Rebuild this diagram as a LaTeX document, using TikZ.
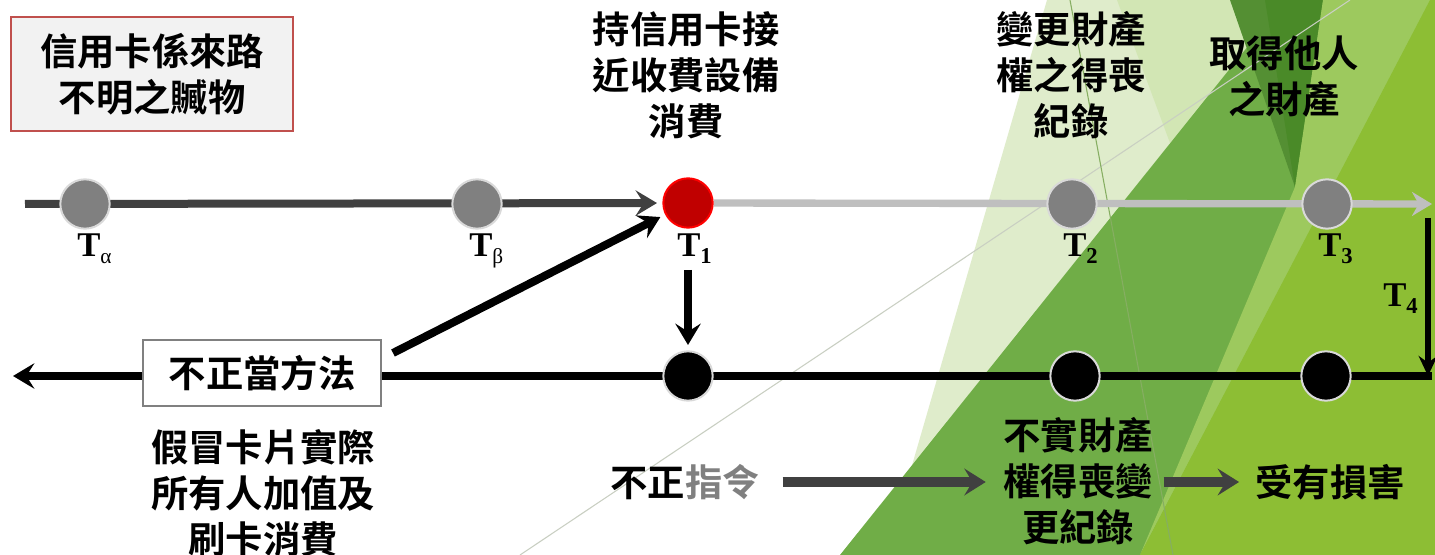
\documentclass[tikz,border=0pt]{standalone}
\usepackage{fontspec}
\setmainfont{Liberation Serif}
\newfontfamily\cjk{Noto Sans CJK TC}[BoldFont={* Bold}]
\usetikzlibrary{arrows.meta}
\definecolor{darkl}{HTML}{404040}
\definecolor{lightl}{HTML}{BFBFBF}
\definecolor{dotgray}{HTML}{808080}
\definecolor{dotrim}{HTML}{D9D9D9}
\definecolor{redfill}{HTML}{C00000}
\definecolor{redrim}{HTML}{FF0000}
\definecolor{boxfill}{HTML}{F2F2F2}
\definecolor{boxrim}{HTML}{C0504D}
\definecolor{pale}{HTML}{DFECCB}
\definecolor{pale2}{HTML}{D2E6B4}
\definecolor{midgreen}{HTML}{70AD47}
\definecolor{darkgreen}{HTML}{548F33}
\definecolor{darkgreen2}{HTML}{4A8A28}
\definecolor{ltgreen}{HTML}{9DC95E}
\definecolor{ygreen}{HTML}{8DBE34}
\definecolor{thinA}{HTML}{C9CFC2}
\definecolor{thinB}{HTML}{86AE62}
\pgfdeclarelayer{bgl}
\pgfdeclarelayer{ln}
\pgfsetlayers{bgl,ln,main}
\newcommand{\tsub}[1]{T\raisebox{-5pt}{\fontsize{17}{17}\selectfont #1}}
\begin{document}
\begin{tikzpicture}[x=0.75pt,y=-0.75pt,
  cjkt/.style={font=\cjk\bfseries\fontsize{28}{34.5}\selectfont, align=center, inner sep=0pt},
  dot/.style={circle, minimum size=37pt, inner sep=0pt, line width=1.5pt},
  graydot/.style={dot, fill=dotgray, draw=dotrim},
  reddot/.style={dot, fill=redfill, draw=redrim},
  blackdot/.style={dot, fill=black, draw=dotrim},
  tlab/.style={font=\bfseries\fontsize{26}{26}\selectfont, inner sep=0pt, anchor=base west},
  bigtip/.style={-{Stealth[length=16pt,width=19pt,inset=6pt]}},
  darkline/.style={draw=darkl, line width=6pt},
  lightline/.style={draw=lightl, line width=5.5pt},
  blackline/.style={draw=black, line width=6pt},
  flowarrow/.style={draw=darkl, line width=7.5pt, -{Stealth[length=16pt,width=20pt,inset=6pt]}}
]
\useasboundingbox (0,0) rectangle (1435,555);
% background facets
\begin{pgfonlayer}{bgl}
\fill[white] (0,0) rectangle (1435,555);
\fill[pale] (1047,0) -- (1435,0) -- (1435,555) -- (886,555) -- cycle;
\fill[pale2] (1117,0) -- (1285,0) -- (1180,170) -- cycle;
\fill[midgreen] (840,555) -- (1285,0) -- (1435,0) -- (1435,555) -- cycle;
\fill[darkgreen] (1230,0) -- (1323,0) -- (1295,187) -- cycle;
\fill[darkgreen2] (1265,0) -- (1323,0) -- (1295,187) -- cycle;
\fill[ltgreen] (1323,0) -- (1432,0) -- (1140,555) -- (1295,187) -- cycle;
\fill[ygreen] (1140,555) -- (1430,0) -- (1435,0) -- (1435,555) -- cycle;
\draw[thinA, line width=0.8pt] (520,555) -- (1350,0);
\draw[thinB, line width=0.8pt] (1070,0) -- (1173,555);
\end{pgfonlayer}

% top-left box
\node[cjkt, draw=boxrim, fill=boxfill, line width=1.5pt, minimum width=211.5pt, minimum height=85.5pt] (src) at (152,74) {信用卡係來路\\不明之贓物};

% top timeline dots
\node[graydot] (ta) at (85,204) {};
\node[graydot] (tb) at (477,204) {};
\node[reddot] (t1) at (688,203) {};
\node[graydot] (t2) at (1072,204) {};
\node[graydot] (t3) at (1327,204) {};
\coordinate (tl) at (25,204);
\coordinate (tr) at (1432,204);

% T labels
\node[tlab] (lta) at (77,257) {T\raisebox{-5pt}{\fontsize{16}{16}\selectfont\mdseries α}};
\node[tlab] (ltb) at (469,257) {T\raisebox{-5pt}{\fontsize{16}{16}\selectfont\mdseries β}};
\node[tlab] (lt1) at (677,257) {\tsub{1}};
\node[tlab] (lt2) at (1063,257) {\tsub{2}};
\node[tlab] (lt3) at (1318,257) {\tsub{3}};
\node[tlab] (lt4) at (1383,307) {\tsub{4}};

% top texts
\node[cjkt] (x1) at (686,75) {持信用卡接\\近收費設備\\消費};
\node[cjkt] (x2) at (1071,75) {變更財產\\權之得喪\\紀錄};
\node[cjkt] (x3) at (1284,77) {取得他人\\之財產};

% bottom timeline
\node[blackdot] (b1) at (688,376) {};
\node[blackdot] (b2) at (1075,376) {};
\node[blackdot] (b3) at (1326,376) {};
\coordinate (br) at (1432,376);
\coordinate (bl) at (13,376);
\coordinate (t4top) at (1428,218);
\coordinate (t4bot) at (1428,376);
\coordinate (dstart) at (393,353);

\node[cjkt, draw=dotgray, fill=white, line width=1.2pt, minimum width=178.5pt, minimum height=49.5pt] (meth) at (262,373) {不正當方法};

% bottom texts
\node[cjkt] (y1) at (263,493) {假冒卡片實際\\所有人加值及\\刷卡消費};
\node[cjkt] (y2) at (685,482) {不正{\color{dotgray}指令}};
\node[cjkt] (y3) at (1078,481) {不實財產\\權得喪變\\更紀錄};
\node[cjkt] (y4) at (1330,482) {受有損害};

% connectors
\begin{pgfonlayer}{ln}
\draw[darkline, bigtip, shorten >=4pt] (tl) -- (t1);
\draw[lightline, -{Stealth[length=15pt,width=18pt,inset=5pt]}] (t1) -- (tr);
\draw[blackline, bigtip] (br) -- (bl);
\end{pgfonlayer}
\draw[draw=black, line width=4.5pt, -{Stealth[length=15pt,width=14pt,inset=5pt]}] (t4top) -- (t4bot);
\draw[blackline, bigtip, shorten >=4pt] (dstart) -- (t1);
\draw[blackline, bigtip, shorten <=31pt, shorten >=4pt] (t1) -- (b1);
\draw[flowarrow, shorten <=17pt, shorten >=13pt] (y2.east) -- (y2.east -| y3.west);
\draw[flowarrow, shorten <=8pt, shorten >=12pt] (y3.east |- y4.west) -- (y4.west);
\end{tikzpicture}
\end{document}
